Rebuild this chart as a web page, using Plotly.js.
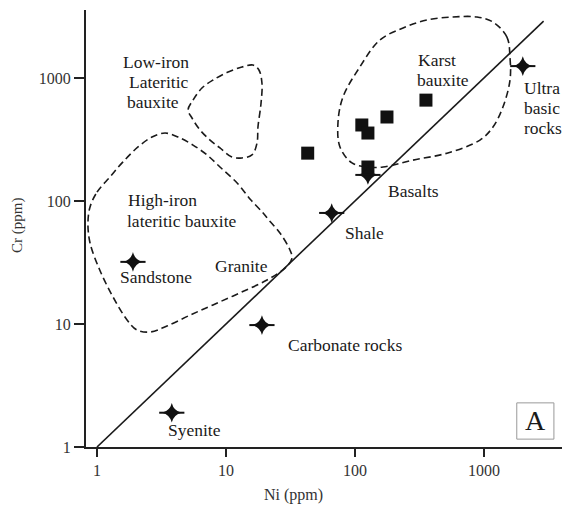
<!DOCTYPE html>
<html>
<head>
<meta charset="utf-8">
<script src="https://cdn.plot.ly/plotly-3.0.1.min.js"></script>
<style>html,body{margin:0;padding:0;background:#fff;}#chart{width:562px;height:506px;}</style>
</head>
<body>
<div id="chart"></div>
<script>
// Reference rocks (stars)
const rockNames = ['Syenite','Sandstone','Carbonate rocks','Shale','Basalts','Ultra basic rocks'];
const rockNi = [3.8, 1.9, 19, 66, 126, 2000];
const rockCr = [1.9, 32, 9.8, 80, 163, 1250];

// Bauxite samples (squares)
const sampleNi = [43, 113, 126, 177, 355, 126];
const sampleCr = [245, 415, 357, 482, 661, 189];

// Cr = Ni reference line
const lineNi = [1, 2900];
const lineCr = [1, 2900];

// Field boundaries (dashed)
const karstNi = [1592,1507,1175,883,575,361,236,156,109,80.7,73.8,76.5,94.8,124,165,282,517,931,1175,1403,1592,1592];
const karstCr = [1455,2153,2852,3133,3133,2963,2552,2037,1228,701,431,275,204,189,189,215,245,313,400,581,963,1455];

const lowIronNi = [5.08,5.55,6.51,7.93,10.4,13.3,16.2,18.0,19.0,18.7,17.7,17.4,15.9,13.3,11.1,8.98,7.52,6.29,5.45,5.08];
const lowIronCr = [550,662,829,963,1119,1228,1275,1162,911,626,400,296,237,224,228,270,313,378,473,550];

const highIronNi = [0.883,1.0,1.26,1.59,2.08,2.67,3.37,4.25,5.55,7.12,8.98,12.2,15.6,19.4,21.5,26.2,31.3,32.5,28.7,20.8,12.8,7.93,5.26,3.49,2.58,2.04,1.71,1.33,1.05,0.883,0.851,0.883];
const highIronCr = [89.4,118,157,208,275,331,357,331,285,237,189,140,102,79.9,70,55.0,40.0,34.4,28.5,22.8,17.9,14.3,11.8,9.63,8.61,8.94,10.8,16.6,27.5,45.6,66.2,89.4];

// Tick labels
const xTickVals = [1, 10, 100, 1000];
const xTickText = ['1', '10', '100', '1000'];
const yTickVals = [1, 10, 100, 1000];
const yTickText = ['1', '10', '100', '1000'];

const serif = 'Liberation Serif, Times New Roman, serif';
const ink = '#1a1a1a';

function field(xs, ys) {
  return {x: xs, y: ys, mode: 'lines', type: 'scatter', hoverinfo: 'skip',
    line: {color: ink, width: 1.6, dash: '7px,4px', shape: 'spline', smoothing: 1},
    showlegend: false};
}

const traces = [
  field(karstNi, karstCr),
  field(lowIronNi, lowIronCr),
  field(highIronNi, highIronCr),
  {x: lineNi, y: lineCr, mode: 'lines', type: 'scatter', line: {color: ink, width: 1.6}, showlegend: false, hoverinfo: 'skip'},
  {x: sampleNi, y: sampleCr, mode: 'markers', type: 'scatter', showlegend: false,
    marker: {symbol: 'square', size: 13, color: '#111'}},
  {x: rockNi, y: rockCr, text: rockNames, mode: 'markers', type: 'scatter', showlegend: false,
    marker: {symbol: 'star-diamond', size: 14, color: '#111', line: {width: 0}}},
  {x: rockNi, y: rockCr, text: rockNames, mode: 'markers', type: 'scatter', showlegend: false,
    marker: {symbol: 'line-ew', size: 18, color: '#111', line: {width: 2, color: '#111'}}}
];

const L = (t, lx, ly, anchor) => ({text: t, x: lx, y: ly, xref: 'x', yref: 'y', showarrow: false,
  xanchor: anchor || 'center', yanchor: 'middle', font: {family: serif, size: 17.5, color: ink}});

const annotations = [
  L('Low-iron', 0.457, 3.130), L('Lateritic', 0.481, 2.967), L('bauxite', 0.434, 2.805),
  L('High-iron', 0.504, 2.008), L('lateritic bauxite', 0.659, 1.837),
  L('Sandstone', 0.457, 1.382), L('Granite', 1.124, 1.472),
  L('Carbonate rocks', 1.922, 0.829), L('Shale', 2.070, 1.740), L('Basalts', 2.450, 2.081),
  L('Karst', 2.636, 3.146), L('bauxite', 2.682, 2.984),
  L('Ultra', 3.292, 2.919, 'left'), L('basic', 3.292, 2.756, 'left'), L('rocks', 3.292, 2.593, 'left'),
  L('Syenite', 0.752, 0.138),
  {text: 'A', x: 0.944, y: 0.0595, xref: 'paper', yref: 'paper', showarrow: false,
    xanchor: 'center', yanchor: 'middle', font: {family: serif, size: 28, color: ink}},
  {text: 'Ni (ppm)', x: 0.435, y: -0.110, xref: 'paper', yref: 'paper', showarrow: false,
    xanchor: 'center', yanchor: 'middle', font: {family: serif, size: 16, color: '#333'}},
  {text: 'Cr (ppm)', x: -0.145, y: 0.508, xref: 'paper', yref: 'paper', showarrow: false, textangle: -90,
    xanchor: 'center', yanchor: 'middle', font: {family: serif, size: 15, color: '#333'}}
];

const layout = {
  width: 562, height: 506,
  margin: {l: 86, r: 0, t: 10, b: 59},
  paper_bgcolor: '#fff', plot_bgcolor: '#fff',
  showlegend: false,
  font: {family: serif, color: '#333'},
  xaxis: {type: 'log', range: [-0.0853, 3.605], tickvals: xTickVals, ticktext: xTickText,
    ticks: 'outside', ticklen: 8, tickwidth: 1.5, tickcolor: '#222',
    showline: true, linewidth: 2, linecolor: '#222', showgrid: false, zeroline: false,
    tickfont: {family: serif, size: 16, color: '#333'}},
  yaxis: {type: 'log', range: [0, 3.553], tickvals: yTickVals, ticktext: yTickText,
    ticks: 'outside', ticklen: 10, tickwidth: 1.5, tickcolor: '#222',
    showline: true, linewidth: 2, linecolor: '#222', showgrid: false, zeroline: false,
    tickfont: {family: serif, size: 16, color: '#333'}},
  shapes: [
    {type: 'rect', xref: 'paper', yref: 'paper', x0: 0.905, x1: 0.983, y0: 0.018, y1: 0.101,
      line: {color: '#999', width: 1}, fillcolor: 'rgba(0,0,0,0)'}
  ],
  annotations: annotations
};

Plotly.newPlot('chart', traces, layout, {staticPlot: true, displayModeBar: false});
</script>
</body>
</html>
